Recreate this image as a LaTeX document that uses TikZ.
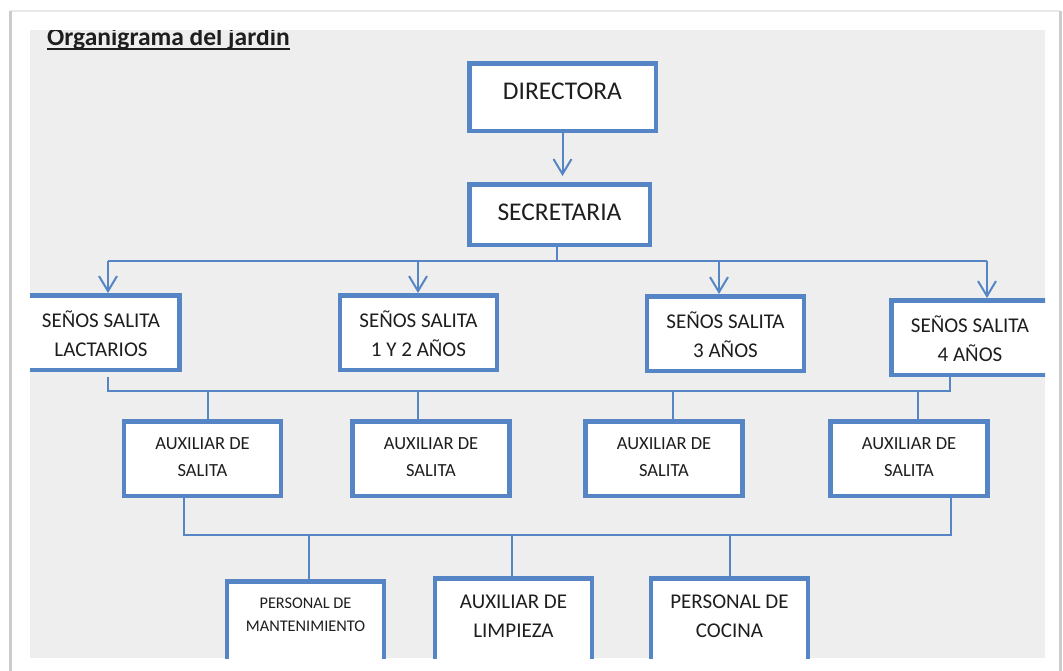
\documentclass[tikz,border=0pt]{standalone}
\usepackage{fontspec}
\setmainfont{Carlito}
\usetikzlibrary{arrows.meta}
\definecolor{orgblue}{HTML}{5585C5}
\definecolor{orggray}{HTML}{EEEEEE}
\definecolor{orgtext}{HTML}{1E1E1E}
\tikzstyle{boxb}=[draw=orgblue,line width=4.5pt,fill=white,inner sep=0pt,anchor=north,align=center,text=orgtext,minimum width=157pt]
\tikzstyle{boxtop}=[boxb,font=\fontsize{25.5pt}{30pt}\selectfont]
\tikzstyle{boxsen}=[boxb,font=\fontsize{21pt}{29.3pt}\selectfont,text height=61.5pt,text depth=13pt]
\tikzstyle{boxaux}=[boxb,font=\fontsize{18.5pt}{26.8pt}\selectfont,text height=54.75pt,text depth=19.75pt]
\tikzstyle{boxbot}=[boxb,font=\fontsize{21pt}{29.4pt}\selectfont,text height=59.5pt,text depth=62pt]
\tikzstyle{link}=[draw=orgblue,line width=2pt]
\tikzstyle{linkarr}=[link,-{Straight Barb[length=15pt,width=18pt]}]

\begin{document}
\begin{tikzpicture}[x=1pt,y=-1pt]
    \useasboundingbox (0,0) rectangle (1063,670);
    % page behind the chart
    \fill[white] (0,0) rectangle (1063,670);
    \draw[line width=1.5pt,gray!18] (10,11) -- (1060,11);
    \draw[line width=3pt,gray!40] (10,11) -- (10,675);
    \draw[line width=3pt,gray!40] (1060,11) -- (1060,675);
    \begin{scope}
    \clip (30,30) rectangle (1045,658);
    \fill[orggray] (30,30) rectangle (1045,658);

    \node[anchor=base west,inner sep=0pt,text=orgtext,font=\bfseries\fontsize{25.5pt}{30pt}\selectfont] (title) at (47,45.5) {Organigrama del jardin};
    \draw[line width=1.8pt,orgtext] ([yshift=-3.8pt]title.base west) -- ([yshift=-3.8pt]title.base east);

    \node[boxtop,minimum width=186.5pt,text height=35.75pt,text depth=31.75pt] (dir) at (562.5,61) {DIRECTORA};
    \node[boxtop,minimum width=180.5pt,text height=35.75pt,text depth=24.75pt] (sec) at (559.5,182) {SECRETARIA};

    \node[boxsen] (sen1) at (101,293)   {SEÑOS SALITA\\LACTARIOS};
    \node[boxsen] (sen2) at (418.5,293) {SEÑOS SALITA\\1 Y 2 AÑOS};
    \node[boxsen] (sen3) at (725.5,294) {SEÑOS SALITA\\3 AÑOS};
    \node[boxsen] (sen4) at (970,298)   {SEÑOS SALITA\\4 AÑOS};

    \node[boxaux] (aux1) at (202.5,419) {AUXILIAR DE\\SALITA};
    \node[boxaux] (aux2) at (431,419)   {AUXILIAR DE\\SALITA};
    \node[boxaux] (aux3) at (664,419)   {AUXILIAR DE\\SALITA};
    \node[boxaux] (aux4) at (909,419)   {AUXILIAR DE\\SALITA};

    \node[boxbot,font=\fontsize{16.3pt}{23pt}\selectfont,text height=50.5pt,text depth=68pt] (bot1) at (305.5,579) {PERSONAL DE\\MANTENIMIENTO};
    \node[boxbot] (bot2) at (513.5,576) {AUXILIAR DE\\LIMPIEZA};
    \node[boxbot] (bot3) at (729.5,576) {PERSONAL DE\\COCINA};

    % taps on the three buses
    \coordinate (b1)  at (557,260.5);
    \coordinate (t1a) at (108,260.5);
    \coordinate (t1b) at (418,260.5);
    \coordinate (t1c) at (719,260.5);
    \coordinate (t1d) at (987,260.5);
    \coordinate (b2l) at (108,390.5);
    \coordinate (b2r) at (950,390.5);
    \coordinate (t2a) at (208,390.5);
    \coordinate (t2b) at (418,390.5);
    \coordinate (t2c) at (673,390.5);
    \coordinate (t2d) at (918,390.5);
    \coordinate (b3l) at (184,534.5);
    \coordinate (b3r) at (951,534.5);
    \coordinate (t3a) at (309,534.5);
    \coordinate (t3b) at (512,534.5);
    \coordinate (t3c) at (730,534.5);

    \draw[linkarr,shorten >=6pt] (dir.south) -- (dir.south |- sec.north);
    \draw[link] (sec.south -| b1) -- (b1);
    \draw[link] (t1a) -- (t1d);
    \foreach \from/\to in {t1a/sen1,t1b/sen2,t1c/sen3,t1d/sen4}
    \draw[linkarr] (\from) -- (\to.north -| \from);

    \draw[link] ([yshift=-5pt]sen1.south -| b2l) -- (b2l) -- (b2r) -- (sen4.south -| b2r);
    \foreach \from/\to in {t2a/aux1,t2b/aux2,t2c/aux3,t2d/aux4}
    \draw[link] (\from) -- (\to.north -| \from);

    \draw[link] (aux1.south -| b3l) -- (b3l) -- (b3r) -- (aux4.south -| b3r);
    \foreach \from/\to in {t3a/bot1,t3b/bot2,t3c/bot3}
    \draw[link] (\from) -- (\to.north -| \from);
    \end{scope}
\end{tikzpicture}
\end{document}
